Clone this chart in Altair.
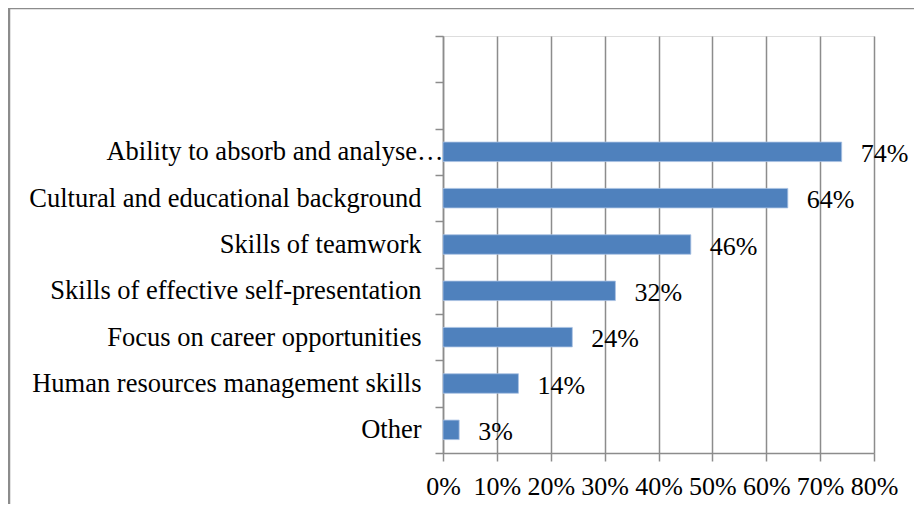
import altair as alt
import pandas as pd

categories = [
    "Ability to absorb and analyse\u2026",
    "Cultural and educational background",
    "Skills of teamwork",
    "Skills of effective self-presentation",
    "Focus on career opportunities",
    "Human resources management skills",
    "Other",
]
values = [0.74, 0.64, 0.46, 0.32, 0.24, 0.14, 0.03]
labels = ["74%", "64%", "46%", "32%", "24%", "14%", "3%"]
blank_slots = [" ", "  "]

df = pd.DataFrame({"cat": categories, "val": values, "lab": labels})
domain = blank_slots + categories

FONT = "Liberation Serif"
FS = 26.5
GRID = "#8c8c8c"

y_scale = alt.Scale(domain=domain, paddingInner=0, paddingOuter=0)

y_enc = alt.Y(
    "cat:N",
    scale=y_scale,
    axis=alt.Axis(
        title=None,
        labelFont=FONT,
        labelFontSize=FS,
        labelColor="black",
        labelLimit=0,
        labelPadding={
            "condition": {"test": f"datum.value == '{categories[0]}'", "value": -8},
            "value": 14,
        },
        tickBand="extent",
        tickSize=8,
        tickColor=GRID,
        tickWidth=1.5,
        domainColor=GRID,
        domainWidth=1.5,
        grid=False,
    ),
)

x_enc = alt.X(
    "val:Q",
    scale=alt.Scale(domain=[0, 0.8], nice=False),
    axis=alt.Axis(
        title=None,
        format=".0%",
        values=[0, 0.1, 0.2, 0.3, 0.4, 0.5, 0.6, 0.7, 0.8],
        labelFont=FONT,
        labelFontSize=26,
        labelColor="black",
        labelPadding=12,
        labelFlush=False,
        labelOverlap=False,
        tickSize=8,
        tickColor=GRID,
        tickWidth=1.5,
        domainColor=GRID,
        domainWidth=1.5,
        grid=True,
        gridColor=GRID,
        gridWidth=1.5,
    ),
)

base = alt.Chart(df).encode(x=x_enc, y=y_enc)

bars = base.mark_bar(color="#4F81BD", stroke="#a9c2e3", strokeWidth=0.8, size=19.5)

text = base.mark_text(
    align="left", baseline="middle", dx=19, dy=2, font=FONT, fontSize=26, color="black"
).encode(text="lab:N")

border = alt.Chart(pd.DataFrame({"a": [0]})).mark_rect(
    fill=None, stroke="#8c8c8c", strokeWidth=2.5, clip=False
).encode(
    x=alt.value(-434), x2=alt.value(474), y=alt.value(-28), y2=alt.value(520)
)

chart = (
    alt.layer(border, bars, text)
    .properties(
        width=431,
        height=417,
        autosize=alt.AutoSizeParams(type="none"),
        padding={"left": 435, "top": 28, "right": 40, "bottom": 51},
    )
    .configure_view(stroke=None)
    .configure(background="white")
)

chart.save("out.html", embed_options={"renderer": "svg", "actions": False})
